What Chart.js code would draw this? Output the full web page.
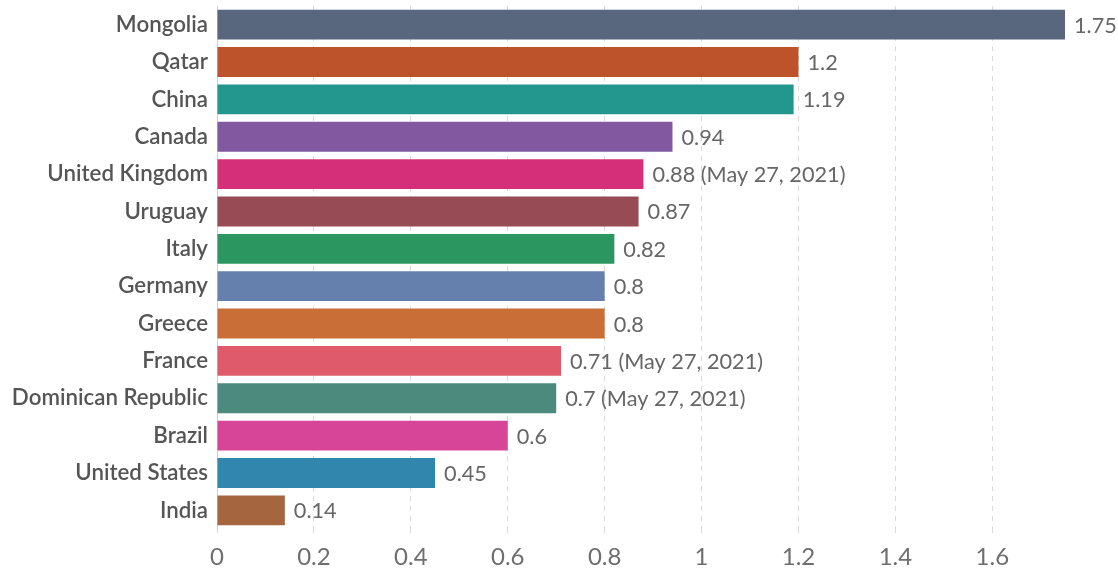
<html>
  <head>
    <title>Horizontal bar chart</title>
    <script src="https://cdn.jsdelivr.net/npm/chart.js"></script>
    <style type="text/css">
      html, body { width: 100%; height: 100%; margin: 0; padding: 0; background: #fff; }
      #wrap { width: 1118px; height: 571px; }
    </style>
  </head>
  <body>
    <div id="wrap"><canvas id="barChart"></canvas></div>
    <script>
      // chart data
      var countries = ['Mongolia', 'Qatar', 'China', 'Canada', 'United Kingdom', 'Uruguay', 'Italy',
        'Germany', 'Greece', 'France', 'Dominican Republic', 'Brazil', 'United States', 'India'];
      var values = [1.75, 1.2, 1.19, 0.94, 0.88, 0.87, 0.82, 0.8, 0.8, 0.71, 0.7, 0.6, 0.45, 0.14];
      var notes = ['', '', '', '', '(May 27, 2021)', '', '', '', '', '(May 27, 2021)', '(May 27, 2021)', '', '', ''];
      var xTicks = [0, 0.2, 0.4, 0.6, 0.8, 1, 1.2, 1.4, 1.6];
      var barColors = ['#58667e', '#bd532b', '#23968e', '#8258a0', '#d62f79', '#964b55', '#2b9660',
        '#6680ad', '#ca6e38', '#df5b6b', '#4b8a7c', '#d64597', '#3086ad', '#a5653f'];

      // value labels to the right of each bar
      var valueLabels = {
        id: 'valueLabels',
        afterDatasetsDraw: function(chart) {
          var ctx = chart.ctx;
          var meta = chart.getDatasetMeta(0);
          ctx.save();
          ctx.font = '21.7px Lato';
          ctx.fillStyle = '#666';
          ctx.textAlign = 'left';
          ctx.textBaseline = 'middle';
          meta.data.forEach(function(bar, i) {
            var txt = String(values[i]) + (notes[i] ? ' ' + notes[i] : '');
            ctx.fillText(txt, bar.x + 9, bar.y + 1);
          });
          ctx.restore();
        }
      };

      var ctx = document.getElementById('barChart').getContext('2d');
      new Chart(ctx, {
        type: 'bar',
        data: {
          labels: countries,
          datasets: [{
            data: values,
            backgroundColor: barColors,
            borderWidth: 0,
            barPercentage: 0.8,
            categoryPercentage: 1
          }]
        },
        options: {
          indexAxis: 'y',
          responsive: true,
          maintainAspectRatio: false,
          animation: false,
          layout: { padding: { top: 6, right: 53, bottom: 0, left: 0 } },
          plugins: { legend: { display: false }, tooltip: { enabled: false } },
          scales: {
            x: {
              min: 0,
              max: 1.75,
              afterBuildTicks: function(scale) {
                scale.ticks = xTicks.map(function(v) { return { value: v }; });
              },
              afterFit: function(scale) { scale.height = 42; },
              grid: {
                color: '#dadada',
                lineWidth: 1,
                drawTicks: true,
                tickLength: 4,
                tickColor: '#dadada'
              },
              border: { display: false, dash: [5, 5] },
              ticks: {
                padding: 10,
                color: '#6e6e6e',
                font: { family: 'Lato', size: 24 },
                maxRotation: 0,
                callback: function(v) { return String(v); }
              }
            },
            y: {
              afterFit: function(scale) {
                scale.width = 217;
                scale.paddingTop = 0;
                scale.paddingBottom = 0;
              },
              grid: { display: false, drawTicks: false },
              border: { display: true, color: '#d0d0d0', width: 1 },
              ticks: {
                padding: 9,
                color: '#555',
                font: { family: 'Lato', size: 22.3, weight: '600' },
                autoSkip: false
              }
            }
          }
        },
        plugins: [valueLabels]
      });
    </script>
  </body>
</html>
